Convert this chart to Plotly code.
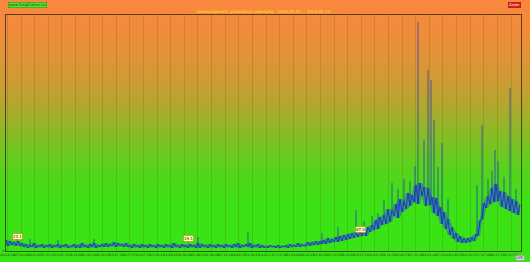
import plotly.graph_objects as go
import numpy as np

# sampled values (height units, 0 = axis bottom), one sample every 2 px
speed = [
    11, 5, 10, 6, 9, 5, 10, 5, 8, 4,
    7, 3, 6, 4, 8, 3, 6, 4, 7, 3,
    6, 4, 7, 3, 6, 4, 7, 3, 6, 4,
    7, 3, 5, 4, 7, 3, 6, 3, 8, 4,
    6, 3, 7, 4, 8, 3, 6, 4, 7, 4,
    8, 4, 7, 5, 9, 4, 8, 5, 7, 4,
    8, 4, 6, 3, 7, 4, 6, 3, 7, 4,
    6, 3, 7, 4, 6, 3, 7, 4, 6, 3,
    7, 4, 6, 3, 8, 4, 6, 3, 7, 4,
    6, 3, 7, 4, 6, 3, 8, 3, 7, 4,
    6, 3, 7, 4, 6, 3, 7, 4, 6, 3,
    7, 4, 6, 3, 7, 4, 8, 3, 6, 4,
    7, 4, 8, 3, 6, 4, 7, 3, 6, 3,
    5, 3, 6, 4, 5, 3, 6, 3, 5, 4,
    6, 3, 7, 4, 6, 4, 8, 4, 7, 5,
    5, 9, 5, 9, 6, 10, 6, 10, 7, 11,
    7, 13, 8, 12, 9, 14, 9, 15, 10, 16,
    11, 17, 12, 18, 13, 19, 14, 20, 15, 22,
    15, 24, 19, 26, 21, 31, 22, 34, 26, 36,
    27, 42, 29, 41, 35, 47, 33, 52, 39, 50,
    42, 58, 45, 56, 49, 66, 47, 68, 55, 64,
    45, 63, 46, 54, 38, 53, 35, 44, 27, 39,
    22, 32, 16, 24, 12, 18, 9, 15, 8, 13,
    8, 13, 9, 14, 10, 17, 15, 30, 32, 48,
    43, 55, 47, 63, 49, 67, 50, 60, 44, 59,
    42, 55, 40, 52, 38, 50, 36, 46,
]
sample = list(range(len(speed)))

# isolated spikes: sample position and peak height
spike_x = [12, 26, 44, 96, 121, 158, 166, 175, 179, 183, 186, 189, 193,
           196, 199, 202, 204.5, 206, 209, 211, 212.5, 214, 216, 218, 221,
           235.5, 238, 241, 243, 244.5, 246, 249, 252, 255]
spike_h = [12, 11, 12, 14, 19, 18, 24, 41, 30, 35, 38, 51, 68,
           62, 72, 70, 85, 229, 111, 181, 171, 131, 84, 108, 52,
           66, 126, 72, 80, 101, 90, 74, 163, 62]

tick_labels = [
    "02:24:19", "05:34:41", "08:45:03", "11:55:25", "15:05:47", "18:16:09",
    "21:26:31", "00:36:53", "03:47:15", "06:57:37", "10:07:59", "13:18:21",
    "16:28:43", "19:39:05", "22:49:27", "01:59:49", "05:10:11", "08:20:33",
    "11:30:55", "14:41:17", "17:51:39", "21:02:01", "00:12:23", "03:22:45",
    "06:33:07", "09:43:29", "12:53:51", "16:04:13", "19:14:35", "22:24:57",
    "01:35:19", "04:45:41", "07:56:03", "11:06:25", "14:16:47", "17:27:09",
    "20:37:31", "23:47:53",
]

ann_x = [5.5, 91, 177]
ann_y = [7, 5, 14]
ann_text = ["23.1", "19.1", "67.0"]

title_text = "Sebességmérő: pillanatnyi sebesség - 2020.01.07. - 2020.01.12."

W, H = 530, 262
ml, mr, mt, mb = 6, 9, 15, 11
pw, ph = W - ml - mr, H - mt - mb
x_max = 257.5
tickvals = list(np.linspace(0.7, 252.5, len(tick_labels)))

arr = np.array(speed, dtype=float)
pad = np.pad(arr, 1, mode="edge")
upper = np.maximum(np.maximum(pad[:-2], pad[1:-1]), pad[2:])
lower = np.minimum(np.minimum(pad[:-2], pad[1:-1]), pad[2:])

fig = go.Figure()
fig.add_trace(go.Scatter(x=sample, y=lower, mode="lines", line=dict(width=0),
                         hoverinfo="skip", showlegend=False))
fig.add_trace(go.Scatter(x=sample, y=upper, mode="lines", line=dict(width=0),
                         fill="tonexty", fillcolor="rgba(35,60,220,0.42)",
                         hoverinfo="skip", showlegend=False))
fig.add_trace(go.Scatter(
    x=sample, y=speed, mode="lines",
    line=dict(color="#1d36d6", width=1.0),
    hoverinfo="skip", showlegend=False,
))

sx, sy = [], []
for x_, h_ in zip(spike_x, spike_h):
    base = speed[int(round(x_))]
    sx += [x_, x_, None]
    sy += [base, h_, None]
fig.add_trace(go.Scatter(
    x=sx, y=sy, mode="lines",
    line=dict(color="rgba(30,50,200,0.8)", width=0.9),
    hoverinfo="skip", showlegend=False,
))

# gradient background (orange -> green), stacked rects from each level to bottom
stops = [(0, (250, 135, 62)), (40, (236, 142, 58)), (80, (206, 155, 52)),
         (110, (172, 170, 45)), (140, (126, 192, 36)), (170, (86, 212, 28)),
         (200, (62, 224, 22)), (262, (55, 230, 18))]
shapes = []
step = 2
for y0 in range(0, H, step):
    yc = y0 + step / 2
    c = stops[-1][1]
    for (ya, ca), (yb, cb) in zip(stops[:-1], stops[1:]):
        if ya <= yc <= yb:
            t = (yc - ya) / (yb - ya)
            c = tuple(int(round(a + (b - a) * t)) for a, b in zip(ca, cb))
            break
    top = (H - mb - y0) / ph
    bot = (H - mb - H - 2) / ph
    shapes.append(dict(type="rect", xref="paper", yref="paper",
                       x0=-(ml + 2) / pw, x1=1 + (mr + 2) / pw,
                       y0=bot, y1=top,
                       line=dict(width=0), fillcolor="rgb(%d,%d,%d)" % c,
                       layer="below"))

annotations = []
for ax_, ay_, tx in zip(ann_x, ann_y, ann_text):
    annotations.append(dict(
        x=ax_, y=ay_, xref="x", yref="y", text=tx, showarrow=True,
        arrowhead=0, arrowwidth=0.6, arrowcolor="#8a6a10", ax=0, ay=-8,
        font=dict(size=4, color="#202020", family="DejaVu Sans"),
        bgcolor="#ffffa8", bordercolor="#8a6a10", borderwidth=0.5, borderpad=0.5,
    ))

def px_ann(xp, yp, text, size, color, bg=None, border=None):
    return dict(
        x=(xp - ml) / pw, y=(H - mb - yp) / ph, xref="paper", yref="paper",
        text=text, showarrow=False, xanchor="center", yanchor="middle",
        font=dict(size=size, color=color, family="DejaVu Sans"),
        bgcolor=bg, bordercolor=border, borderwidth=0.5 if border else 0,
        borderpad=0.5,
    )

annotations.append(px_ann(264, 11, title_text, 4.2, "#ffe833"))
annotations.append(px_ann(27, 4.5, "www.SzegStation.hu", 3.6, "#10500c", "#58e232", "#2c8a18"))
annotations.append(px_ann(514, 4.5, "Zoom", 3.6, "#ffffff", "#e01818", "#a01010"))
annotations.append(px_ann(520, 258, "UPS", 3.6, "#303030", "#d8d8d8", "#808080"))

fig.update_layout(
    width=W, height=H,
    margin=dict(l=ml, r=mr, t=mt, b=mb, pad=0, autoexpand=False),
    paper_bgcolor="rgba(0,0,0,0)", plot_bgcolor="rgba(0,0,0,0)",
    shapes=shapes, annotations=annotations, showlegend=False,
    xaxis=dict(range=[0, x_max], tickvals=tickvals, ticktext=tick_labels,
               tickfont=dict(size=3.2, color="#2a3a10", family="DejaVu Sans"),
               showgrid=True, gridcolor="rgba(40,30,0,0.13)", gridwidth=1,
               zeroline=False, showline=True, linecolor="rgba(40,25,0,0.7)",
               linewidth=1, mirror=True, ticks="", ticklen=0, tickangle=0,
               automargin=False),
    yaxis=dict(range=[0, 236], tickvals=[0], ticktext=["0"],
               tickfont=dict(size=3.2, color="#2a3a10", family="DejaVu Sans"),
               showgrid=False, zeroline=False, showline=True,
               linecolor="rgba(40,25,0,0.7)", linewidth=1, mirror=True,
               ticks="", automargin=False),
)

fig.write_html("out.html")
